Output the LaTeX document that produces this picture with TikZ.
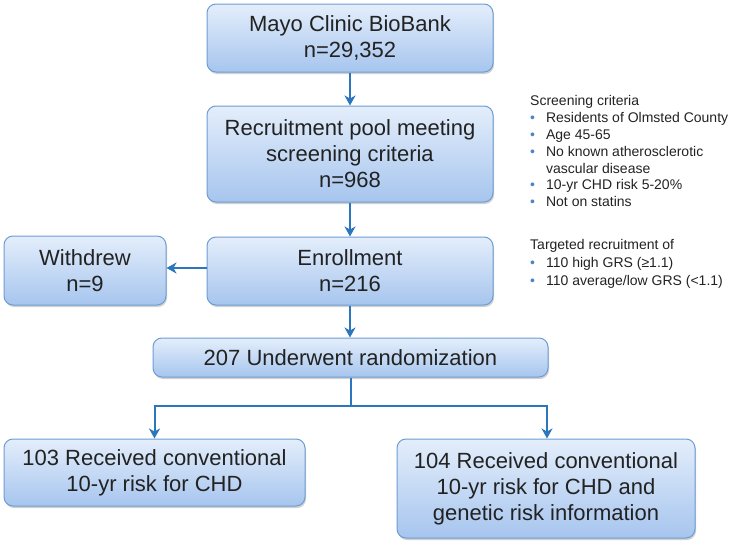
\documentclass[tikz,border=0pt]{standalone}
\usepackage{fontspec}
\setmainfont{Liberation Sans}
\usetikzlibrary{arrows.meta,shadows}
\definecolor{boxtop}{HTML}{E4EEFB}
\definecolor{boxbot}{HTML}{A6C5EE}
\definecolor{boxline}{HTML}{6E9DD4}
\definecolor{arrowc}{HTML}{2B76BC}
\definecolor{bulletc}{HTML}{4A86C5}
\definecolor{txt}{HTML}{222222}
\tikzset{
  flowbox/.style={rounded corners=9pt, draw=boxline, line width=1pt,
    top color=boxtop, bottom color=boxbot, text=txt, align=center,
    font=\fontsize{22}{26}\selectfont, inner sep=0pt,
    drop shadow={shadow xshift=1pt, shadow yshift=-2pt, opacity=0.3, fill=black!60}},
  flowarrow/.style={draw=arrowc, line width=2pt, -{Stealth[length=10pt,width=11pt,inset=3pt]}},
  flowline/.style={draw=arrowc, line width=2pt},
  note/.style={anchor=north west, inner sep=0pt, text=txt, align=left,
    font=\fontsize{14}{16.8}\selectfont}
}
\newcommand{\bul}{\textcolor{bulletc}{\textbullet}}
\begin{document}
\begin{tikzpicture}[x=1pt,y=-1pt]
\useasboundingbox (0,0) rectangle (737,544);
\node[flowbox, minimum width=286pt, minimum height=68pt] (bio) at (350,38) {Mayo Clinic BioBank\\n=29,352};
\node[flowbox, minimum width=286pt, minimum height=96pt] (pool) at (350,154) {Recruitment pool meeting\\screening criteria\\n=968};
\node[flowbox, minimum width=286pt, minimum height=68pt] (enr) at (350,271) {Enrollment\\n=216};
\node[flowbox, minimum width=162pt, minimum height=69pt] (wd) at (85,270.5) {Withdrew\\n=9};
\node[flowbox, minimum width=395pt, minimum height=39pt] (rand) at (350.5,357.5) {207 Underwent randomization};
\node[flowbox, minimum width=301pt, minimum height=67pt] (left) at (154.5,472.5) {103 Received conventional\\10-yr risk for CHD};
\node[flowbox, minimum width=298pt, minimum height=99pt] (right) at (546,488.5) {104 Received conventional\\10-yr risk for CHD and\\genetic risk information};
\draw[flowarrow] (bio) -- (pool);
\draw[flowarrow] (pool) -- (enr);
\draw[flowarrow] (enr.west |- 0,268) -- (wd.east |- 0,268);
\draw[flowarrow] (enr.south) -- (rand.north -| enr.south);
\coordinate (split) at (350.5,406);
\coordinate (splitL) at (154.5,406);
\coordinate (splitR) at (547,406);
\draw[flowline] (rand.south) -- (split);
\draw[flowline] ([xshift=-1pt]splitL) -- ([xshift=1pt]splitR);
\draw[flowarrow] (splitL) -- (left.north);
\draw[flowarrow] (splitR) -- (splitR |- right.north);
\node[note] (crit) at (530,94) {\begin{tabular}{@{}l@{\hspace{11pt}}l@{}}
\multicolumn{2}{@{}l@{}}{Screening criteria}\\
\bul & Residents of Olmsted County\\
\bul & Age 45-65\\
\bul & No known atherosclerotic\\
 & vascular disease\\
\bul & 10-yr CHD risk 5-20\%\\
\bul & Not on statins
\end{tabular}};
\node[note] (target) at (530,238) {\begin{tabular}{@{}l@{\hspace{11pt}}l@{}}
\multicolumn{2}{@{}l@{}}{Targeted recruitment of}\\[1pt]
\bul & 110 high GRS (≥1.1)\\[1pt]
\bul & 110 average/low GRS (<1.1)
\end{tabular}};
\end{tikzpicture}
\end{document}
